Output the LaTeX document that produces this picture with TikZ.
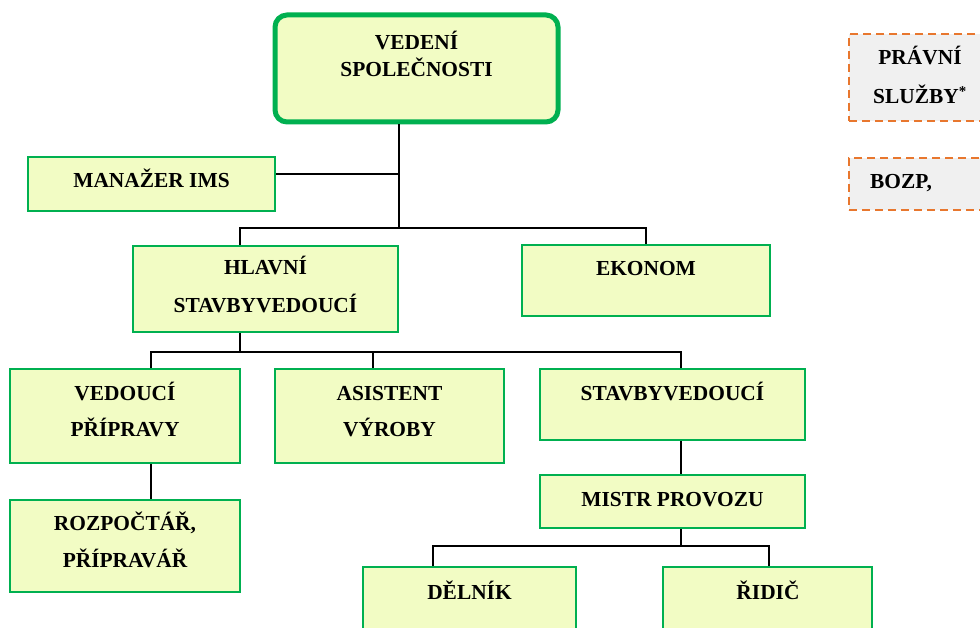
\documentclass[tikz,border=0pt]{standalone}
\usepackage{fontspec}
\setmainfont{Liberation Serif}
\definecolor{boxgreen}{HTML}{00B050}
\definecolor{boxfill}{HTML}{F2FCC4}
\definecolor{dashorange}{HTML}{E8772E}
\definecolor{dashfill}{HTML}{F0F0F0}
\newcommand\orgbox[6][gbox]{%
  \node[#1, minimum width={#5-#3}, minimum height={#6-#4}] (#2) at ({(#3+#5)/2},{(#4+#6)/2}) {};}
\begin{document}
\begin{tikzpicture}[x=1pt,y=-1pt,
  gbox/.style={draw=boxgreen, line width=2.5pt, fill=boxfill, inner sep=0pt},
  topbox/.style={gbox, line width=5pt, rounded corners=12pt},
  dbox/.style={draw=dashorange, line width=2.7pt, fill=dashfill, inner sep=0pt, dash pattern=on 8pt off 5pt},
  lbl/.style={anchor=base, inner sep=0pt, font=\fontsize{21.4}{25}\selectfont\bfseries},
  conn/.style={draw=black, line width=2pt}]
\useasboundingbox (0,0) rectangle (980,628);
\clip (0,0) rectangle (980,628);
% boxes
\orgbox[topbox]{top}{275}{15}{558}{122}
\orgbox{ims}{28}{157}{275}{211}
\orgbox{hlavni}{133}{246}{398}{332}
\orgbox{ekonom}{522}{245}{770}{316}
\orgbox{vedprip}{10}{369}{240}{463}
\orgbox{asist}{275}{369}{504}{463}
\orgbox{stavby}{540}{369}{805}{440}
\orgbox{mistr}{540}{475}{805}{528}
\orgbox{rozp}{10}{500}{240}{592}
\orgbox{delnik}{363}{567}{576}{645}
\orgbox{ridic}{663}{567}{872}{645}
\orgbox[dbox]{pravni}{849}{34}{1005}{121}
\orgbox[dbox]{bozp}{849}{158}{1005}{210}
% junction coordinates
\coordinate (j0) at (399,174);
\coordinate (j1) at (399,228);
\coordinate (h1) at (240,228);
\coordinate (h2) at (646,228);
\coordinate (h3) at (240,352);
\coordinate (h4) at (151,352);
\coordinate (h5) at (681,352);
\coordinate (h6) at (373,352);
\coordinate (h7) at (681,546);
\coordinate (h8) at (433,546);
\coordinate (h9) at (769,546);
% connectors
\draw[conn] (top.south -| j1) -- (j1);
\draw[conn] (ims.east |- j0) -- (j0);
\draw[conn] (hlavni.north -| h1) -- (h1) -- (h2) -- (ekonom.north -| h2);
\draw[conn] (hlavni.south -| h3) -- (h3);
\draw[conn] (vedprip.north -| h4) -- (h4) -- (h5) -- (stavby.north -| h5);
\draw[conn] (h6) -- (asist.north -| h6);
\draw[conn] (vedprip.south -| h4) -- (rozp.north -| h4);
\draw[conn] (stavby.south -| h5) -- (mistr.north -| h5);
\draw[conn] (mistr.south -| h7) -- (h7);
\draw[conn] (delnik.north -| h8) -- (h8) -- (h9) -- (ridic.north -| h9);
% labels
\node[lbl] (t1) at (416.5,50) {VEDENÍ};
\node[lbl] (t2) at (416.5,77) {SPOLEČNOSTI};
\node[lbl] (t3) at (151.5,188) {MANAŽER IMS};
\node[lbl] (t4) at (265.5,275) {HLAVNÍ};
\node[lbl] (t5) at (265.5,313) {STAVBYVEDOUCÍ};
\node[lbl] (t6) at (646,276) {EKONOM};
\node[lbl] (t7) at (125,400) {VEDOUCÍ};
\node[lbl] (t8) at (125,436) {PŘÍPRAVY};
\node[lbl] (t9) at (389.5,400) {ASISTENT};
\node[lbl] (t10) at (389.5,436) {VÝROBY};
\node[lbl] (t11) at (672.5,400) {STAVBYVEDOUCÍ};
\node[lbl] (t12) at (672.5,506) {MISTR PROVOZU};
\node[lbl] (t13) at (125,530) {ROZPOČTÁŘ,};
\node[lbl] (t14) at (125,567) {PŘÍPRAVÁŘ};
\node[lbl] (t15) at (469.5,599) {DĚLNÍK};
\node[lbl] (t16) at (768,599) {ŘIDIČ};
\node[lbl] (t17) at (920,65) {PRÁVNÍ};
\node[lbl] (t18) at (920,104) {SLUŽBY\textsuperscript{*}};
\node[lbl, anchor=base west] (t19) at (870,189) {BOZP,};
\end{tikzpicture}
\end{document}
